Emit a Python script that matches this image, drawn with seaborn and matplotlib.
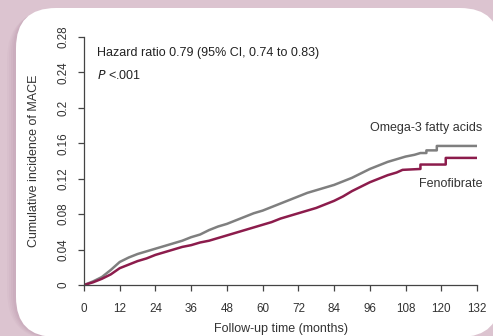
import numpy as np
import pandas as pd
import matplotlib
matplotlib.use("Agg")
import matplotlib.pyplot as plt
from matplotlib.patches import FancyBboxPatch
import seaborn as sns

# Cumulative incidence of MACE by follow-up month
omega_t = [0, 3, 6, 9, 12, 15, 18, 21, 24, 27, 30, 33, 36, 39, 42, 45, 48, 51, 54,
           57, 60, 63, 66, 69, 72, 75, 78, 81, 84, 87, 90, 93, 96, 99, 102, 105,
           108, 111, 113, 115, 115, 118.5, 118.5, 132]
omega_v = [0, 0.004, 0.009, 0.017, 0.026, 0.031, 0.035, 0.038, 0.041, 0.044, 0.047,
           0.050, 0.054, 0.057, 0.062, 0.066, 0.069, 0.073, 0.077, 0.081, 0.084,
           0.088, 0.092, 0.096, 0.100, 0.104, 0.107, 0.110, 0.113, 0.117, 0.121,
           0.126, 0.131, 0.135, 0.139, 0.142, 0.145, 0.147, 0.149, 0.149, 0.152,
           0.152, 0.157, 0.157]

feno_t = [0, 3, 6, 9, 12, 15, 18, 21, 24, 27, 30, 33, 36, 39, 42, 45, 48, 51, 54,
          57, 60, 63, 66, 69, 72, 75, 78, 81, 84, 87, 90, 93, 96, 99, 102, 105,
          107, 113, 113, 121.5, 121.5, 132]
feno_v = [0, 0.003, 0.007, 0.012, 0.019, 0.023, 0.027, 0.030, 0.034, 0.037, 0.040,
          0.043, 0.045, 0.048, 0.050, 0.053, 0.056, 0.059, 0.062, 0.065, 0.068,
          0.071, 0.075, 0.078, 0.081, 0.084, 0.087, 0.091, 0.095, 0.100, 0.106,
          0.111, 0.116, 0.120, 0.124, 0.127, 0.130, 0.131, 0.136, 0.136, 0.1435,
          0.1435]

groups = ["Omega-3 fatty acids", "Fenofibrate"]
colors = ["#7f7f7f", "#8c1c4c"]
x_ticks = [0, 12, 24, 36, 48, 60, 72, 84, 96, 108, 120, 132]
y_ticks = [0, 0.04, 0.08, 0.12, 0.16, 0.2, 0.24, 0.28]
y_tick_labels = ["0", "0.04", "0.08", "0.12", "0.16", "0.2", "0.24", "0.28"]

df = pd.concat([
    pd.DataFrame({"month": omega_t, "incidence": omega_v, "group": groups[0]}),
    pd.DataFrame({"month": feno_t, "incidence": feno_v, "group": groups[1]}),
], ignore_index=True)

sns.set_theme(style="ticks")
plt.rcParams["font.family"] = ["Liberation Sans", "DejaVu Sans"]

W, H = 493, 336
fig = plt.figure(figsize=(W / 100, H / 100), dpi=100)
fig.patch.set_facecolor("#dcc4d0")

# soft shadow and white rounded panel
for i, a in enumerate([0.05, 0.06, 0.07, 0.08]):
    off = 9 - 2 * i
    sh = FancyBboxPatch(((16 - off) / W, (H - 337 - off * 0.3) / H),
                        (500 - 16) / W, (337 - 8) / H,
                        boxstyle=f"round,pad=0,rounding_size={(40 + off) / W}",
                        transform=fig.transFigure, facecolor="#9c6f88",
                        edgecolor="none", alpha=a, zorder=0,
                        mutation_aspect=W / H)
    fig.patches.append(sh)
panel = FancyBboxPatch((16 / W, (H - 337) / H), (500 - 16) / W, (337 - 8) / H,
                       boxstyle=f"round,pad=0,rounding_size={40 / W}",
                       transform=fig.transFigure, facecolor="white",
                       edgecolor="none", zorder=1, mutation_aspect=W / H)
fig.patches.append(panel)

ax = fig.add_axes([84 / W, (H - 285) / H, (477 - 84) / W, (285 - 37) / H])
ax.set_facecolor("none")
ax.set_zorder(2)

sns.lineplot(data=df, x="month", y="incidence", hue="group", palette=colors,
             hue_order=groups, estimator=None, sort=False, linewidth=1.8,
             legend=False, ax=ax)

ax.set_xlim(0, 132)
ax.set_ylim(0, 0.28)
ax.set_xticks(x_ticks)
ax.set_xticklabels([str(t) for t in x_ticks])
ax.set_yticks(y_ticks)
ax.set_yticklabels(y_tick_labels, rotation=90, va="center")
sns.despine(ax=ax)
for s in ["left", "bottom"]:
    ax.spines[s].set_color("#444444")
    ax.spines[s].set_linewidth(0.9)
ax.tick_params(axis="both", direction="out", length=4.2, width=0.9,
               color="#444444", labelcolor="#333333", labelsize=8.4)
ax.tick_params(axis="x", pad=8.5)
ax.tick_params(axis="y", pad=6)

ax.set_xlabel("Follow-up time (months)", fontsize=9, color="#333333", labelpad=6)
ax.set_ylabel("Cumulative incidence of MACE", fontsize=9, color="#333333",
              labelpad=13)

ax.text(4.3, 0.262, "Hazard ratio 0.79 (95% CI, 0.74 to 0.83)", fontsize=9,
        color="#222222", va="center", ha="left")
ax.text(4.3, 0.237, "$P$ <.001", fontsize=9, color="#222222",
        va="center", ha="left")
ax.text(133.8, 0.177, "Omega-3 fatty acids", fontsize=9, color="#333333",
        va="center", ha="right", clip_on=False)
ax.text(134.0, 0.1145, "Fenofibrate", fontsize=9, color="#333333",
        va="center", ha="right", clip_on=False)

fig.savefig("out.png", dpi=100, facecolor=fig.get_facecolor())
